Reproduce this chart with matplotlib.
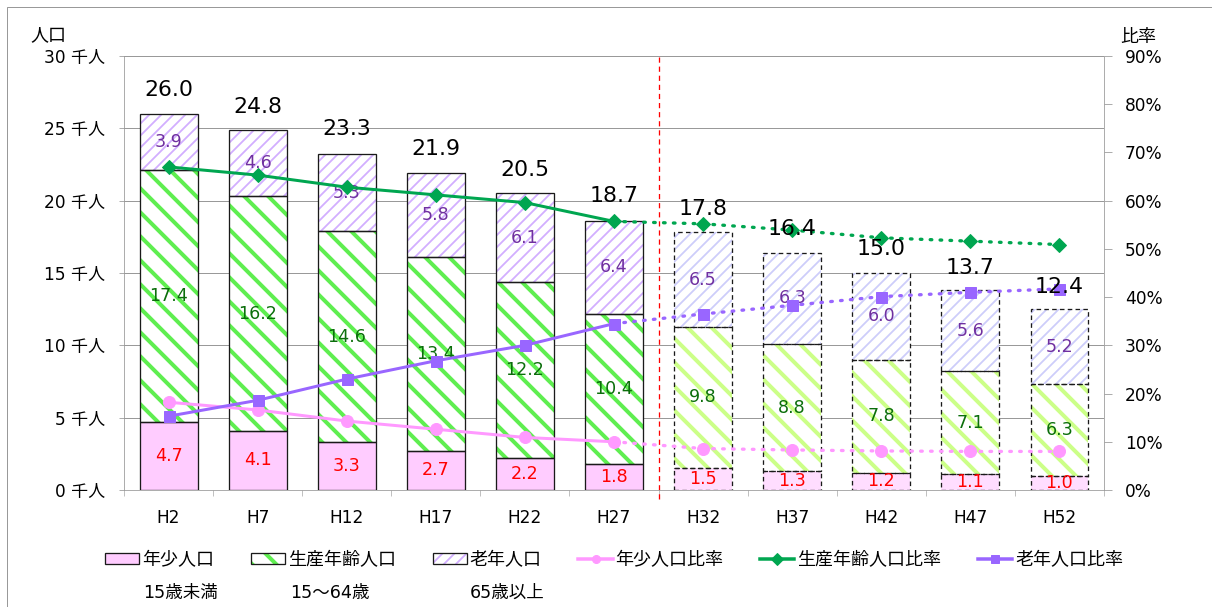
import numpy as np
import matplotlib.pyplot as plt
from matplotlib.patches import Rectangle
from matplotlib.lines import Line2D

plt.rcParams['font.family'] = ['DejaVu Sans', 'Noto Sans CJK JP']

# data (thousand people / percent)
years = ['H2', 'H7', 'H12', 'H17', 'H22', 'H27', 'H32', 'H37', 'H42', 'H47', 'H52']
young = [4.7, 4.1, 3.3, 2.7, 2.2, 1.8, 1.5, 1.3, 1.2, 1.1, 1.0]
working = [17.4, 16.2, 14.6, 13.4, 12.2, 10.4, 9.8, 8.8, 7.8, 7.1, 6.3]
elderly = [3.9, 4.6, 5.3, 5.8, 6.1, 6.4, 6.5, 6.3, 6.0, 5.6, 5.2]
totals = [26.0, 24.8, 23.3, 21.9, 20.5, 18.7, 17.8, 16.4, 15.0, 13.7, 12.4]

young_ratio = [18.2, 16.6, 14.3, 12.6, 10.9, 10.0, 8.6, 8.3, 8.1, 8.0, 8.0]
working_ratio = [67.0, 65.3, 62.8, 61.2, 59.6, 55.7, 55.2, 53.9, 52.3, 51.6, 50.9]
elderly_ratio = [15.3, 18.6, 23.0, 26.8, 30.0, 34.5, 36.5, 38.3, 40.1, 41.0, 41.7]

n_past = 6  # H2..H27 are actual values, the rest are projections

fig = plt.figure(figsize=(1212 / 72, 607 / 72), dpi=72)
ax = fig.add_axes([124 / 1212, 1 - 490 / 607, (1104 - 124) / 1212, (490 - 56) / 607])

x = np.arange(len(years))
width = 0.65
young = np.array(young)
working = np.array(working)
elderly = np.array(elderly)


def stacked(idx, heights, bottoms, fill, hatch, hcolor, hlw, ls):
    with plt.rc_context({'hatch.linewidth': hlw}):
        bars = ax.bar(x[idx], heights[idx], width, bottom=bottoms[idx], color=fill,
                      edgecolor=hcolor, hatch=hatch, linewidth=0, zorder=2)
        for b in bars:
            if hasattr(b, 'set_hatch_linewidth'):
                b.set_hatch_linewidth(hlw)
    ax.bar(x[idx], heights[idx], width, bottom=bottoms[idx], fill=False,
           edgecolor='#1a1a1a', linewidth=1.3, linestyle=ls, zorder=3)


past = slice(0, n_past)
future = slice(n_past, None)
zero = np.zeros(len(years))
dash = (0, (3.5, 2.5))

young_style = ('#FFCCFF', None, '#FFCCFF', 1)
working_style = ('white', '\\', '#5FEE50', 4)
elderly_style = ('white', '//', '#D2AEFF', 1.8)

stacked(past, young, zero, *young_style, '-')
stacked(past, working, young, *working_style, '-')
stacked(past, elderly, young + working, *elderly_style, '-')
stacked(future, young, zero, '#FFDDFF', None, '#FFDDFF', 1, dash)
stacked(future, working, young, 'white', '\\', '#CCFF88', 4, dash)
stacked(future, elderly, young + working, 'white', '//', '#CDCDFA', 1.8, dash)

# segment labels
lab_fs = 17.5
for i in x:
    ax.text(i, young[i] / 2, f'{young[i]:.1f}', ha='center', va='center',
            fontsize=lab_fs, color='#FF0000', zorder=4)
    ax.text(i, young[i] + working[i] / 2, f'{working[i]:.1f}', ha='center', va='center',
            fontsize=lab_fs, color='#0B6E0B', zorder=4)
    ax.text(i, young[i] + working[i] + elderly[i] / 2, f'{elderly[i]:.1f}', ha='center',
            va='center', fontsize=lab_fs, color='#7030A0', zorder=4)

ax.axvline(5.5, ymin=-0.02, ymax=1, color='#FF0000', lw=1.3, ls=(0, (4, 3)),
           clip_on=False, zorder=2.5)

ax.set_xlim(-0.5, len(years) - 0.5)
ax.set_ylim(0, 30)
ax.set_yticks(np.arange(0, 31, 5))
ax.set_yticklabels([f'{v} 千人' for v in range(0, 31, 5)])
ax.set_xticks(x)
ax.set_xticklabels(years)
ax.set_xticks(np.arange(-0.5, len(years), 1), minor=True)
ax.tick_params(axis='x', which='major', length=0, pad=19, labelsize=17)
ax.tick_params(axis='x', which='minor', length=6, color='#999999')
ax.tick_params(axis='y', length=5, color='#999999', pad=14, labelsize=17)
ax.yaxis.grid(True, color='#999999', lw=1)
ax.set_axisbelow(True)
for s in ['top', 'right']:
    ax.spines[s].set_visible(False)
for s in ['left', 'bottom']:
    ax.spines[s].set_color('#999999')

# ratio lines
ax2 = ax.twinx()
dotted = (0, (0.5, 2.5))
series = [(young_ratio, '#FF99FF', 'o', 12), (working_ratio, '#00A650', 'D', 10),
          (elderly_ratio, '#9966FF', 's', 11)]
for vals, col, mk, ms in series:
    ax2.plot(x[:n_past], vals[:n_past], color=col, lw=3, marker=mk, ms=ms, zorder=5)
    ax2.plot(x[n_past - 1:], vals[n_past - 1:], color=col, lw=3.3, ls=dotted,
             dash_capstyle='round', marker=mk, ms=ms,
             markevery=list(range(1, len(years) - n_past + 1)), zorder=5)

ax2.set_ylim(0, 90)
ax2.set_yticks(np.arange(0, 91, 10))
ax2.set_yticklabels([f'{v}%' for v in range(0, 91, 10)])
ax2.tick_params(axis='y', length=8, color='#999999', pad=13, labelsize=17)
for s in ['top', 'left', 'bottom']:
    ax2.spines[s].set_visible(False)
ax2.spines['right'].set_color('#999999')

# totals on top of everything
for i in x:
    ax2.text(i, totals[i] + 1.65, f'{totals[i]:.1f}', transform=ax.transData,
             ha='center', va='center', fontsize=22, color='black', zorder=6)

fig.text(30 / 1212, 1 - 35 / 607, '人口', fontsize=18, va='center')
fig.text(1120 / 1212, 1 - 37 / 607, '比率', fontsize=18, va='center')


# legend: hatched boxes need their own hatch width, so draw them by hand
class BarKey:
    def __init__(self, style):
        self.style = style


class BarKeyHandler:
    def legend_artist(self, legend, orig_handle, fontsize, handlebox):
        fill, hatch, hcolor, hlw = orig_handle.style
        x0, y0 = -handlebox.xdescent, -handlebox.ydescent
        w, h = handlebox.width, handlebox.height
        tr = handlebox.get_transform()
        with plt.rc_context({'hatch.linewidth': hlw}):
            p = Rectangle((x0, y0), w, h, facecolor=fill, edgecolor=hcolor,
                          hatch=hatch, lw=0, transform=tr)
        if hasattr(p, 'set_hatch_linewidth'):
            p.set_hatch_linewidth(hlw)
        o = Rectangle((x0, y0), w, h, fill=False, edgecolor='#1a1a1a', lw=1.3, transform=tr)
        handlebox.add_artist(p)
        handlebox.add_artist(o)
        return p


handles = [BarKey(young_style), BarKey(working_style), BarKey(elderly_style)]
for vals, col, mk, ms in series:
    handles.append(Line2D([], [], color=col, lw=3.5, marker=mk, ms=8))
labels = ['年少人口', '生産年齢人口', '老年人口', '年少人口比率', '生産年齢人口比率', '老年人口比率']
fig.legend(handles, labels, loc='center', bbox_to_anchor=(614 / 1212, 1 - 560 / 607),
           ncol=6, frameon=False, fontsize=18, handlelength=1.9, handleheight=0.6,
           handletextpad=0.15, columnspacing=2.05,
           handler_map={BarKey: BarKeyHandler()})

for xp, t in [(143, '15歳未満'), (290, '15～64歳'), (470, '65歳以上')]:
    fig.text(xp / 1212, 1 - 593 / 607, t, fontsize=17.5, va='center')

fig.patches.append(Rectangle((7 / 1212, -0.1), 1.2, 1 - 7 / 607 + 0.1,
                             transform=fig.transFigure, fill=False,
                             edgecolor='#999999', lw=1))

fig.savefig('out.png', dpi=72)
